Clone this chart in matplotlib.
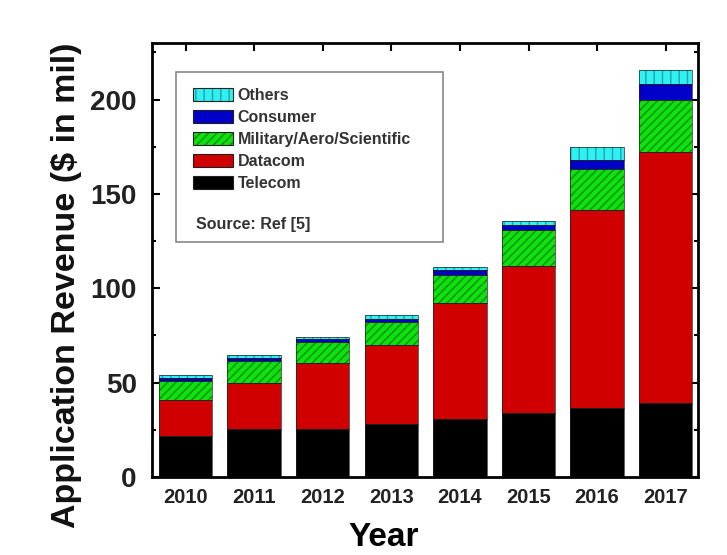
import matplotlib
matplotlib.use("Agg")
import matplotlib.pyplot as plt
from matplotlib.patches import Patch, Rectangle
import numpy as np

plt.rcParams['font.family'] = ['Liberation Sans', 'DejaVu Sans']
plt.rcParams['hatch.linewidth'] = 1.0

years = ['2010', '2011', '2012', '2013', '2014', '2015', '2016', '2017']
telecom = [22, 25.5, 25.5, 28, 31, 34, 36.5, 39]
datacom = [19, 24.5, 35, 42, 61, 78, 105, 133.5]
military = [10, 11.5, 11, 12, 15, 19, 21.5, 27.5]
consumer = [1.5, 1.8, 1.5, 2, 2.5, 2.5, 5, 8.5]
others = [1.5, 1.5, 1.3, 2, 1.8, 2, 7, 7]

series = [
    ('Telecom', telecom, '#000000', '#000000', None),
    ('Datacom', datacom, '#d00000', '#d00000', None),
    ('Military/Aero/Scientific', military, '#10e010', '#009000', '////'),
    ('Consumer', consumer, '#0000c8', '#0000c8', None),
    ('Others', others, '#30f0f0', '#20a0b0', '||'),
]

fig = plt.figure(figsize=(7.27, 5.55), dpi=100)
ax = fig.add_axes([0.209, 0.1405, 0.751, 0.782])

x = np.arange(len(years))
w = 0.78
bottom = np.zeros(len(years))
handles = {}
for name, vals, fc, hc, hatch in series:
    vals = np.array(vals, dtype=float)
    ax.bar(x, vals, w, bottom=bottom, facecolor=fc, edgecolor=hc,
           hatch=hatch, linewidth=0, zorder=2)
    ax.bar(x, vals, w, bottom=bottom, fill=False, edgecolor='#202020',
           linewidth=0.5, zorder=3)
    handles[name] = (Patch(facecolor=fc, edgecolor=hc, hatch=hatch, linewidth=0),
                     Patch(fill=False, edgecolor='#202020', linewidth=0.8))
    bottom += vals

ax.set_xlim(-0.49, 7.47)
ax.set_ylim(0, 230)
ax.set_xticks(x)
ax.set_xticklabels(years, fontsize=14.5, fontweight='bold', color='#222222')
ax.set_yticks([0, 50, 100, 150, 200])
ax.set_yticklabels(['0', '50', '100', '150', '200'], fontsize=20, fontweight='bold', color='#222222')
ax.set_yticks([25, 75, 125, 175, 225], minor=True)
ax.tick_params(axis='both', which='both', direction='in', top=True, right=True, width=1.5)
ax.tick_params(axis='both', which='major', length=6)
ax.tick_params(axis='y', which='major', pad=11)
ax.tick_params(axis='y', which='minor', length=3)
ax.tick_params(axis='x', which='major', pad=8)
for s in ax.spines.values():
    s.set_linewidth(2)

ax.set_xlabel('Year', fontsize=24, fontweight='bold')
ax.xaxis.set_label_coords(0.425, -0.104)
ax.set_ylabel('Application Revenue ($ in mil)', fontsize=24.5, fontweight='bold', color='#111111')
ax.yaxis.set_label_coords(-0.128, 0.442)

# legend box
ax.add_patch(Rectangle((0.044, 0.541), 0.489, 0.393, transform=ax.transAxes,
                       facecolor='white', edgecolor='#888888', linewidth=1.2, zorder=5))
order = ['Others', 'Consumer', 'Military/Aero/Scientific', 'Datacom', 'Telecom']
leg = ax.legend([handles[n] for n in order], order, loc='upper left',
                bbox_to_anchor=(0.075, 0.897), frameon=False,
                prop={'weight': 'bold', 'size': 11.5}, handlelength=2.5,
                handleheight=0.85, labelspacing=0.44, handletextpad=0.3,
                borderaxespad=0, borderpad=0)
leg.set_zorder(6)
for t in leg.get_texts():
    t.set_color('#333333')
ax.text(0.08, 0.581, 'Source: Ref [5]', transform=ax.transAxes, fontsize=11.5,
        fontweight='bold', color='#333333', va='center', zorder=7)

fig.savefig('out.png', dpi=100)
